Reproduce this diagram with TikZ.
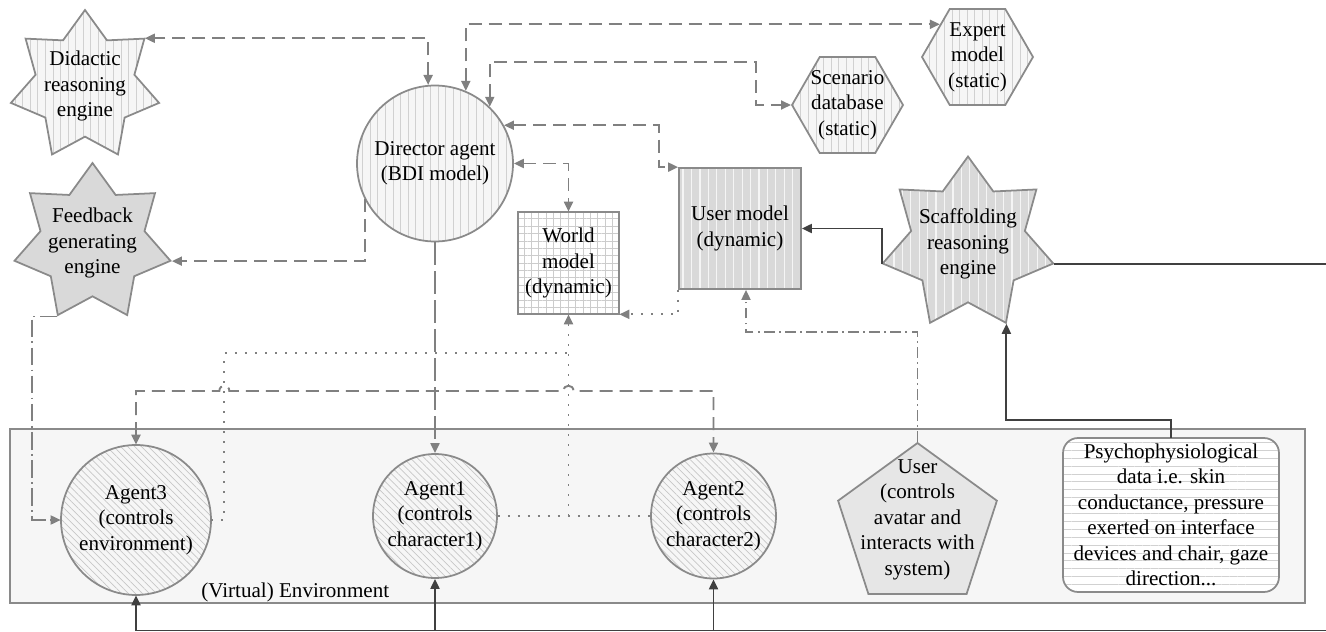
\documentclass[tikz,border=0pt]{standalone}
\usepackage{fontspec}
\setmainfont{Liberation Serif}
\usepackage{tikz}
\usetikzlibrary{arrows.meta, shapes.geometric, patterns.meta, calc}

\definecolor{linegray}{HTML}{808080}
\definecolor{darkline}{HTML}{404040}
\definecolor{shapeborder}{HTML}{8A8A8A}
\definecolor{lightfill}{HTML}{F6F6F6}
\definecolor{midfill}{HTML}{D9D9D9}
\definecolor{userfill}{HTML}{E6E6E6}

\begin{document}
\begin{tikzpicture}[x=0.02cm, y=-0.02cm, >={Triangle[length=2mm, width=1.8mm]},
      every node/.append style={font=\rmfamily\fontsize{12pt}{14.5pt}\selectfont},
      base/.style={draw=shapeborder, line width=1pt, align=center, inner sep=0pt},
      striped/.style={base, preaction={fill=lightfill}, pattern={Lines[angle=90, distance=4.3pt, line width=0.4pt]}, pattern color=black!18},
      greystriped/.style={base, preaction={fill=midfill}, pattern={Lines[angle=90, distance=4.8pt, line width=0.7pt]}, pattern color=white!75!midfill},
      hatched/.style={base, circle, preaction={fill=lightfill}, pattern={Lines[angle=-45, distance=2.8pt, line width=0.4pt]}, pattern color=black!22},
      engine/.style={star, star points=7, star point ratio=1.5, inner sep=-6pt},
      store/.style={regular polygon, regular polygon sides=6, minimum size=2.22cm, inner sep=-4pt},
      flow/.style={linegray, line width=1.1pt, dash pattern=on 0.26cm off 0.14cm},
      longflow/.style={linegray, line width=1.1pt, dash pattern=on 0.46cm off 0.12cm},
      dotline/.style={linegray, line width=1.1pt, dash pattern=on 1.1pt off 4.6pt},
      dashdot/.style={linegray, line width=1pt, dash pattern=on 6pt off 2.5pt on 1pt off 2.5pt},
      longdashdot/.style={linegray, line width=1pt, dash pattern=on 10pt off 2.5pt on 1pt off 2.5pt},
      signal/.style={darkline, line width=1.1pt}]
    \useasboundingbox (0,0) rectangle (1326,632);
    \node (env) [draw=shapeborder, line width=1pt, fill=lightfill, minimum width=25.9cm, minimum height=3.48cm] at (657.5,516) {};
    \node (envlbl) [anchor=south west, inner sep=1pt] at ([xshift=3.8cm]env.south west) {(Virtual) Environment};

    \node (did) [striped, engine, minimum size=3.04cm] at (85,86) {Didactic\\reasoning\\engine};
    \node (fb) [base, engine, fill=midfill, minimum size=3.2cm] at (92.5,243) {Feedback\\generating\\engine};
    \node (scaf) [greystriped, engine, minimum size=3.5cm] at (968,244) {Scaffolding\\reasoning\\engine};
    \node (dir) [circle, striped, minimum size=3.12cm] at (435,163.5) {Director agent\\(BDI model)};
    \node (wm) [rectangle, base, preaction={fill=white}, pattern={Hatch[angle=0, distance=4.2pt, line width=0.4pt]}, pattern color=black!20,
      minimum width=2.02cm, minimum height=2.04cm] at (568.5,263) {World\\model\\(dynamic)};
    \node (um) [rectangle, greystriped, minimum width=2.44cm, minimum height=2.42cm] at (740,228.5) {User model\\(dynamic)};
    \node (ex) [striped, store] at (977.5,57) {Expert\\model\\(static)};
    \node (scen) [striped, store] at (847.5,105) {Scenario\\database\\(static)};

    \node (a3) [hatched, minimum size=3cm] at (136,520) {Agent3\\(controls\\environment)};
    \node (a1) [hatched, minimum size=2.48cm] at (435,516) {Agent1\\(controls\\character1)};
    \node (a2) [hatched, minimum size=2.5cm] at (713.5,516) {Agent2\\(controls\\character2)};
    \node (usr) [base, regular polygon, regular polygon sides=5, fill=userfill, minimum size=3.34cm, inner sep=-13pt] at (917.5,526.5)
      {User\\(controls\\avatar and\\interacts with\\system)\\[-4pt]\mbox{}};
    \node (psy) [rectangle, rounded corners=0.3cm, base, preaction={fill=white}, pattern={Lines[angle=0, distance=4.5pt, line width=0.4pt]},
      pattern color=black!18, minimum width=4.32cm, minimum height=3.08cm] at (1171,515)
      {Psychophysiological\\data i.e. skin\\conductance, pressure\\exerted on interface\\devices and chair, gaze\\direction...};

    \draw[flow, <->] (dir.95) |- (did.outer point 7);
    \draw[flow, <->] (dir.67) |- (ex.139);
    \draw[flow, <->] (dir.46) -- ++(0,-45) -| ($(scen.west)+(-35,0)$) -- (scen.west);
    \draw[flow, <->] (dir.29) -| ($(um.north west)+(-19,0)$) -- (um.north west);
    \draw[flow, <->] (dir.0) -| (wm.north);
    \draw[flow, ->] (dir.207) |- (fb.outer point 6);
    \draw[longflow, ->] (dir.south) -- (a1.north);

    \coordinate (lvl) at (0,391);
    \coordinate (dotx) at ($(a3.east)+(13,0)$);
    \draw[flow, <->] (a3.north) |- ($(dotx |- lvl)+(-5,0)$) .. controls +(0,-7) and +(0,-7) .. ($(dotx |- lvl)+(5,0)$)
      -- ($(wm.south |- lvl)+(-5,0)$) .. controls +(0,-7) and +(0,-7) .. ($(wm.south |- lvl)+(5,0)$) -| (a2.north);

    \draw[dotline] (a1.east) -- (a2.west);
    \draw[dotline, ->] (wm.south |- a1.east) -- (wm.south);
    \draw[dotline] (a3.east) -- (dotx) |- ($(wm.south)+(0,39)$);
    \draw[dotline, ->] (um.south west) |- (wm.south east);

    \draw[dashdot, ->] (usr.north) -- ++(0,-110) -| ([xshift=0.12cm]um.south);
    \draw[longdashdot, ->] (fb.outer point 4) -- ++(-25,0) |- (a3.west);

    \coordinate (loop) at (1345,630.5);
    \draw[signal, ->] (psy.north) -- ++(0,-18) -| (scaf.outer point 5);
    \draw[signal, ->] (scaf.outer point 3) |- (um.east);
    \draw[signal, ->] (scaf.outer point 6) -| (loop) -| (a3.south);
    \draw[signal, ->] (a1.south |- loop) -- (a1.south);
    \draw[signal, ->] (a2.south |- loop) -- (a2.south);
\end{tikzpicture}
\end{document}
